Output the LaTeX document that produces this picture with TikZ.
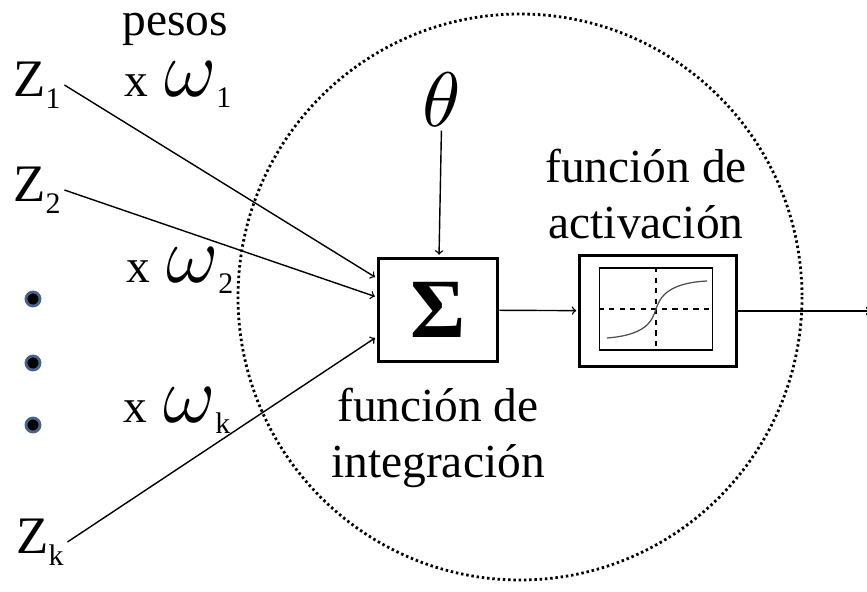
\documentclass[tikz,border=0pt]{standalone}
\usepackage{fontspec}
\setmainfont{Liberation Serif}
\usetikzlibrary{arrows}

\definecolor{dotrim}{RGB}{70,100,140}
\newcommand{\lowidx}[1]{\raisebox{-0.5ex}{\fontsize{17}{17}\selectfont #1}}
\newcommand{\wgt}[1]{x\,\,\scalebox{1.85}{$\omega$}\lowidx{#1}}

\begin{document}
\begin{tikzpicture}[x=0.02cm,y=-0.02cm,>=to,
  conn/.style={->,line width=0.8pt,shorten >=1pt},
  inlabel/.style={font=\fontsize{30}{30}\selectfont,inner sep=2pt},
  wlabel/.style={font=\fontsize{27}{27}\selectfont,inner sep=0pt},
  txt/.style={font=\fontsize{27}{32}\selectfont,align=center,inner sep=0pt},
  sumbox/.style={draw,line width=1.7pt,minimum width=2.4cm,minimum height=2.08cm,inner sep=0pt},
  actbox/.style={draw,line width=1.7pt,minimum width=3.14cm,minimum height=2.24cm},
  plotbox/.style={draw,line width=1.1pt,minimum width=2.26cm,minimum height=1.64cm},
  dot/.style={circle,fill=black,draw=dotrim,line width=1.6pt,inner sep=0pt,minimum size=8pt}]
  \clip (0,0) rectangle (867,592);
  % neuron boundary
  \draw[line width=1.6pt,dash pattern=on 1.4pt off 1.6pt] (520,297) circle [x radius=282,y radius=283];
  % inputs
  \node[inlabel] (z1) at (37,85) {Z\lowidx{1}};
  \node[inlabel] (z2) at (37,190) {Z\lowidx{2}};
  \node[inlabel] (zk) at (40,542) {Z\lowidx{k}};
  \node[dot] (d1) at (33,299) {};
  \node[dot] (d2) at (33,363) {};
  \node[dot] (d3) at (33,425) {};
  % weights
  \node[wlabel] (pesos) at (175,29) {pesos};
  \node[wlabel] (w1) at (178,85) {\wgt{1}};
  \node[wlabel] (w2) at (180,271) {\wgt{2}};
  \node[wlabel] (wk) at (177,411) {\wgt{k}};
  % integration and activation
  \node[sumbox] (sum) at (438,310) {\fontsize{48}{48}\selectfont\bfseries Σ};
  \node[inner sep=2pt] (theta) at (442,100) {\scalebox{4.4}{$\theta$}};
  \node[actbox] (act) at (658,311) {};
  \node[plotbox] (plot) at (656,309) {};
  \draw[dashed,line width=0.6pt] (plot.north) -- (plot.south);
  \draw[dashed,line width=0.6pt] (plot.west) -- (plot.east);
  \draw[line width=0.7pt,black!70] (607,338) .. controls (645,335) and (652,322) .. (656,309)
    .. controls (660,297) and (668,283) .. (707,281);
  \node[txt] (actlbl) at (646,194) {función de\\activación};
  \node[txt] (intlbl) at (438,438) {función de\\integración};
  \coordinate (out) at (872,311);
  % connections
  \draw[conn] (z1.east) -- (sum.west |- 0,278);
  \draw[conn] (z2.east) -- (sum.west |- 0,297);
  \draw[conn] (zk.east) -- (sum.west |- 0,337);
  \draw[conn] (theta) -- (sum);
  \draw[conn] (sum) -- (act);
  \draw[conn] (act) -- (out);
\end{tikzpicture}
\end{document}
